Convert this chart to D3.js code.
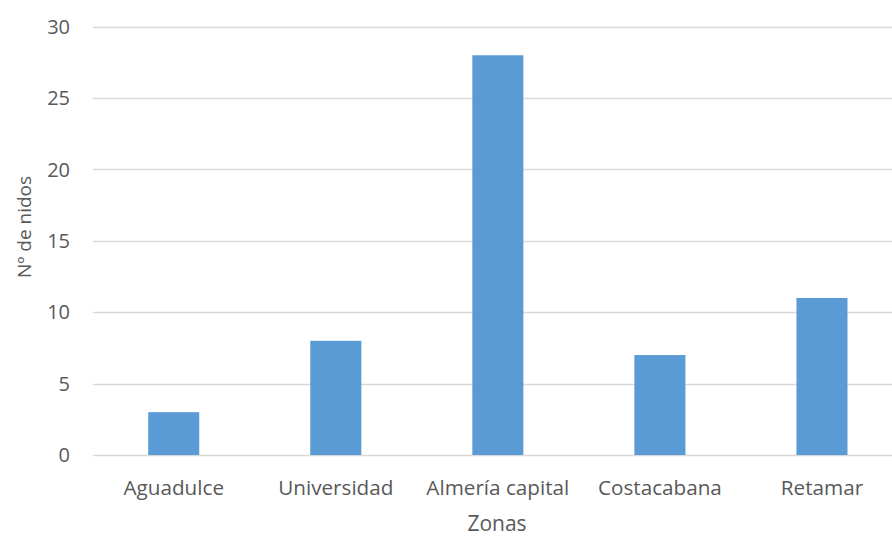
<!DOCTYPE html>
<html>
<head>
<meta charset="utf-8">
<script src="https://cdn.jsdelivr.net/npm/d3@7"></script>
<style>
  html, body { margin: 0; padding: 0; background: #fff; }
  svg { display: block; overflow: hidden; }
  text { font-family: "Open Sans", Lato, sans-serif; fill: #595959; }
</style>
</head>
<body>
<svg id="chart" width="892" height="536"></svg>
<script>
// Nest counts per zone
const zones = ["Aguadulce", "Universidad", "Almería capital", "Costacabana", "Retamar"];
const nests = [3, 8, 28, 7, 11];
const yTicks = [0, 5, 10, 15, 20, 25, 30];

const svg = d3.select("#chart");
const plot = { left: 92.7, right: 903, top: 26.7, bottom: 455 };

const x = d3.scaleBand()
  .domain(zones)
  .range([plot.left, plot.right])
  .paddingInner(0.685)
  .paddingOuter(0.3425);

const y = d3.scaleLinear()
  .domain([0, 30])
  .range([plot.bottom, plot.top]);

// Horizontal gridlines
svg.append("g")
  .selectAll("line")
  .data(yTicks)
  .join("line")
  .attr("x1", plot.left)
  .attr("x2", plot.right)
  .attr("y1", d => Math.round(y(d)) + 0.5)
  .attr("y2", d => Math.round(y(d)) + 0.5)
  .attr("stroke", "#d9d9d9")
  .attr("stroke-width", 1.3);

// Y tick labels
svg.append("g")
  .selectAll("text")
  .data(yTicks)
  .join("text")
  .attr("x", 70)
  .attr("y", d => y(d))
  .attr("dy", "0.36em")
  .attr("text-anchor", "end")
  .attr("font-size", 20)
  .text(d => d);

// Bars
svg.append("g")
  .selectAll("rect")
  .data(zones.map((z, i) => ({ zone: z, value: nests[i] })))
  .join("rect")
  .attr("x", d => x(d.zone))
  .attr("width", x.bandwidth())
  .attr("y", d => y(d.value))
  .attr("height", d => y(0) - y(d.value))
  .attr("fill", "#5b9bd5");

// Category labels
svg.append("g")
  .selectAll("text")
  .data(zones)
  .join("text")
  .attr("x", d => x(d) + x.bandwidth() / 2)
  .attr("y", 488)
  .attr("dy", "0.36em")
  .attr("text-anchor", "middle")
  .attr("font-size", 20.7)
  .text(d => d);

// Axis titles
svg.append("text")
  .attr("x", 497)
  .attr("y", 524)
  .attr("dy", "0.32em")
  .attr("text-anchor", "middle")
  .attr("font-size", 21)
  .text("Zonas");

svg.append("text")
  .attr("transform", "translate(24,227) rotate(-90)")
  .attr("dy", "0.36em")
  .attr("text-anchor", "middle")
  .attr("font-size", 19)
  .text("Nº de nidos");
</script>
</body>
</html>
